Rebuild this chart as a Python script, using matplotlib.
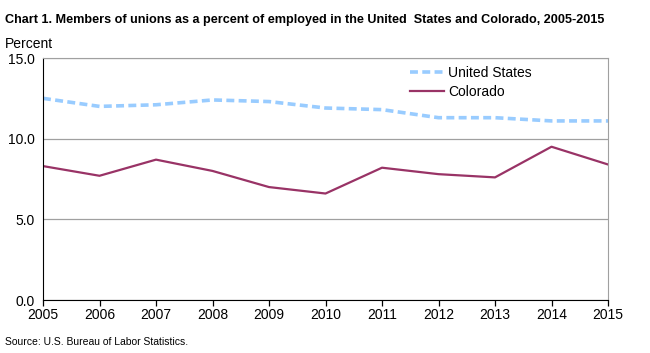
import matplotlib.pyplot as plt
import numpy as np

plt.rcParams['font.family'] = ['Liberation Sans', 'DejaVu Sans']

years = [2005, 2006, 2007, 2008, 2009, 2010, 2011, 2012, 2013, 2014, 2015]
us = [12.5, 12.0, 12.1, 12.4, 12.3, 11.9, 11.8, 11.3, 11.3, 11.1, 11.1]
colorado = [8.3, 7.7, 8.7, 8.0, 7.0, 6.6, 8.2, 7.8, 7.6, 9.5, 8.4]

fig = plt.figure(figsize=(6.5, 3.53), dpi=100)
ax = fig.add_axes([43/650, 1 - 300/353, 565/650, 242/353])

ax.plot(years, us, color='#99CCFF', lw=2.6, ls=(0, (2.2, 1.2)), label='United States')
ax.plot(years, colorado, color='#993366', lw=1.6, label='Colorado')

ax.set_xlim(2005, 2015)
ax.set_ylim(0, 15)
ax.set_xticks(years)
ax.set_yticks([0, 5, 10, 15])
ax.set_yticklabels(['0.0', '5.0', '10.0', '15.0'])
ax.yaxis.grid(True, color='#a0a0a0', lw=0.9)
ax.set_axisbelow(True)
ax.tick_params(axis='y', length=0, labelsize=10, pad=6)
ax.tick_params(axis='x', length=4, width=0.9, labelsize=10, pad=2, direction='out')

for s in ['top', 'right']:
    ax.spines[s].set_color('#a0a0a0')
for s in ['left', 'bottom']:
    ax.spines[s].set_color('black')

ax.legend(loc='upper left', bbox_to_anchor=(0.628, 1.02), frameon=False,
          fontsize=10, handlelength=2.4, handletextpad=0.3, labelspacing=0.35)

fig.text(5/650, 1 - 20/353, 'Chart 1. Members of unions as a percent of employed in the United  States and Colorado, 2005-2015',
         fontsize=9.1, fontweight='bold', va='center')
fig.text(5/650, 1 - 44/353, 'Percent', fontsize=10, va='center')
fig.text(5/650, 1 - 342/353, 'Source: U.S. Bureau of Labor Statistics.', fontsize=7.5, va='center')

fig.savefig('out.png', dpi=100)
